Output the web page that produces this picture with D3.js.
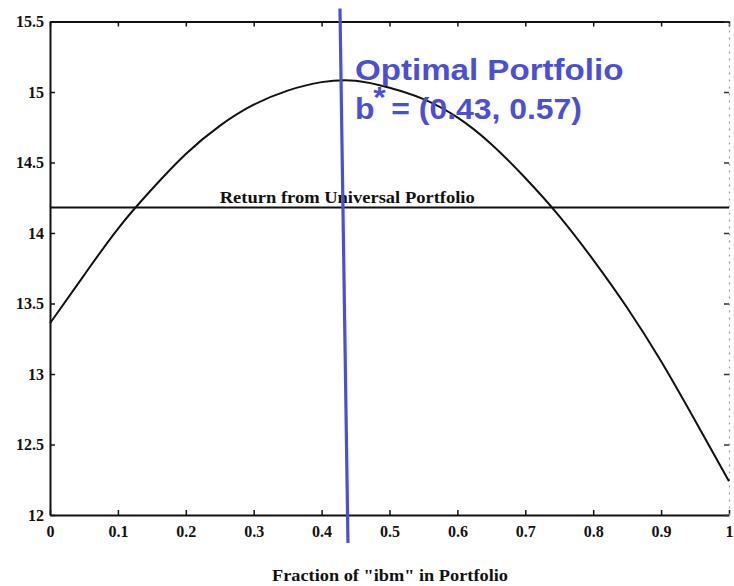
<!DOCTYPE html>
<html>
<head>
<meta charset="utf-8">
<script src="https://cdn.jsdelivr.net/npm/d3@7"></script>
<style>
  html, body { margin: 0; padding: 0; background: #fff; }
  svg { display: block; }
  .tick text { font-family: "Liberation Serif", "DejaVu Serif", serif; font-weight: bold; font-size: 16px; fill: #111; }
</style>
</head>
<body>
<script>
// Fraction of "ibm" held in a two-stock portfolio vs. wealth achieved
const fractions = [0, 0.05, 0.1, 0.15, 0.2, 0.25, 0.3, 0.35, 0.4, 0.45, 0.5,
                   0.55, 0.6, 0.65, 0.7, 0.75, 0.8, 0.85, 0.9, 0.95, 1.0];
const wealth = [13.36, 13.70, 14.03, 14.31, 14.56, 14.76, 14.91, 15.01, 15.07, 15.08, 15.03,
                14.95, 14.82, 14.63, 14.39, 14.12, 13.81, 13.47, 13.09, 12.67, 12.24];

// Return achieved by the universal portfolio
const universalReturn = 14.18;

// Best constant-rebalanced portfolio
const optimalFraction = 0.43;
const optimalLabel = ["Optimal Portfolio", "(0.43, 0.57)"];

const xTicks = [0, 0.1, 0.2, 0.3, 0.4, 0.5, 0.6, 0.7, 0.8, 0.9, 1];
const xTickLabels = ["0", "0.1", "0.2", "0.3", "0.4", "0.5", "0.6", "0.7", "0.8", "0.9", "1"];
const yTicks = [12, 12.5, 13, 13.5, 14, 14.5, 15, 15.5];
const yTickLabels = ["12", "12.5", "13", "13.5", "14", "14.5", "15", "15.5"];

const W = 734, H = 586;
const svg = d3.select("body").append("svg").attr("width", W).attr("height", H);

const x = d3.scaleLinear().domain([0, 1]).range([50, 729]);
const y = d3.scaleLinear().domain([12, 15.5]).range([515, 21.5]);

const ink = "#111";
const blue = "#4a4fd4";

// Left axis
const gl = svg.append("g").attr("transform", `translate(${x(0)},0)`)
  .call(d3.axisLeft(y).tickValues(yTicks).tickSizeInner(-5).tickSizeOuter(0).tickPadding(6)
    .tickFormat((d, i) => yTickLabels[i]));
gl.select(".domain").attr("stroke", ink).attr("stroke-width", 2);
gl.selectAll(".tick line").attr("stroke", ink).attr("stroke-width", 1.5);

// Bottom axis
const gb = svg.append("g").attr("transform", `translate(0,${y(12)})`)
  .call(d3.axisBottom(x).tickValues(xTicks).tickSizeInner(-5).tickSizeOuter(0).tickPadding(11)
    .tickFormat((d, i) => xTickLabels[i]));
gb.select(".domain").attr("stroke", ink).attr("stroke-width", 2);
gb.selectAll(".tick line").attr("stroke", ink).attr("stroke-width", 1.5);

// Top axis
const gt = svg.append("g").attr("transform", `translate(0,${y(15.5)})`)
  .call(d3.axisTop(x).tickValues(xTicks).tickSizeInner(-5).tickSizeOuter(0).tickFormat(""));
gt.select(".domain").attr("stroke", ink).attr("stroke-width", 2);
gt.selectAll(".tick line").attr("stroke", ink).attr("stroke-width", 1.5);

// Right axis (faint)
const gr = svg.append("g").attr("transform", `translate(${x(1)},0)`)
  .call(d3.axisRight(y).tickValues(yTicks).tickSizeInner(-5).tickSizeOuter(0).tickFormat(""));
gr.select(".domain").attr("stroke", "#999").attr("stroke-width", 1.2).attr("stroke-dasharray", "2,5");
gr.selectAll(".tick line").attr("stroke", "#333").attr("stroke-width", 1.5);

// Universal portfolio return
svg.append("line")
  .attr("x1", x(0)).attr("x2", x(1))
  .attr("y1", y(universalReturn)).attr("y2", y(universalReturn))
  .attr("stroke", ink).attr("stroke-width", 2);

svg.append("text")
  .attr("x", x(0.25)).attr("y", y(universalReturn) - 5)
  .attr("font-family", "Liberation Serif, DejaVu Serif, serif")
  .attr("font-weight", "bold").attr("font-size", 16).attr("fill", ink)
  .attr("textLength", 255).attr("lengthAdjust", "spacingAndGlyphs")
  .text("Return from Universal Portfolio");

// Wealth curve
const line = d3.line()
  .x((d, i) => x(fractions[i]))
  .y(d => y(d))
  .curve(d3.curveNatural);
svg.append("path")
  .datum(wealth)
  .attr("d", line)
  .attr("fill", "none").attr("stroke", ink).attr("stroke-width", 2);

// Optimal portfolio marker
svg.append("line")
  .attr("x1", x(optimalFraction) - 2).attr("y1", y(15.5) - 13)
  .attr("x2", x(optimalFraction) + 6).attr("y2", y(12) + 28)
  .attr("stroke", blue).attr("stroke-width", 3.2);

// Annotation, set in a slightly wide face
const note = svg.append("g")
  .attr("transform", `translate(${x(optimalFraction) + 13},0) scale(1.1,1)`)
  .attr("font-family", "Liberation Sans, Arial, sans-serif")
  .attr("font-weight", "bold").attr("font-size", 29).attr("fill", blue);

note.append("text").attr("x", 0).attr("y", y(15.5) + 59)
  .attr("textLength", 244).attr("lengthAdjust", "spacingAndGlyphs")
  .text(optimalLabel[0]);

const t2 = note.append("text").attr("x", 0).attr("y", y(15.5) + 98);
t2.append("tspan").text("b");
t2.append("tspan").attr("dx", -1).attr("dy", -12).text("*");
t2.append("tspan").attr("dx", -3).attr("dy", 12).text(" = " + optimalLabel[1]);

// Axis title
svg.append("text")
  .attr("x", 390).attr("y", 581)
  .attr("text-anchor", "middle")
  .attr("font-family", "Liberation Serif, DejaVu Serif, serif")
  .attr("font-weight", "bold").attr("font-size", 16).attr("fill", ink)
  .attr("textLength", 236).attr("lengthAdjust", "spacingAndGlyphs")
  .text("Fraction of \"ibm\" in Portfolio");
</script>
</body>
</html>
